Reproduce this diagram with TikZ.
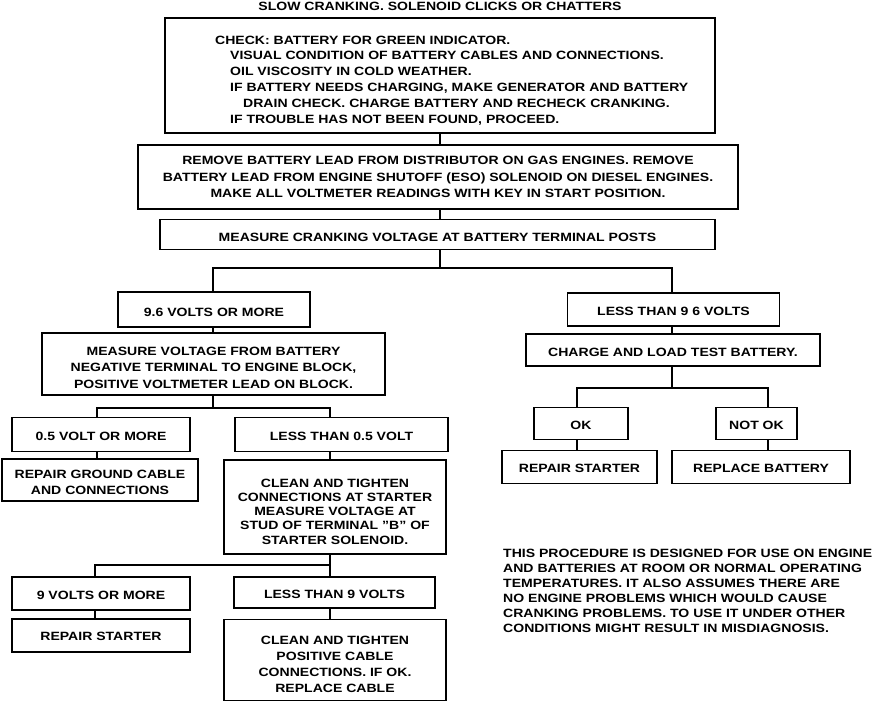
\documentclass[tikz,border=0pt]{standalone}
\usepackage{fontspec}
\setmainfont{Liberation Sans}[FakeStretch=1.17]
\begin{document}
\begin{tikzpicture}[x=1pt,y=-1pt,
  frame/.style={draw, line width=1.8pt, inner sep=0pt},
  conn/.style={line width=1.5pt},
  lbl/.style={inner sep=0pt, align=center, font=\bfseries\fontsize{12}{16}\selectfont}]
\useasboundingbox (0,0) rectangle (880,706);
\node[lbl] (title) at (440,6) {SLOW CRANKING. SOLENOID CLICKS OR CHATTERS};
% boxes
\node[frame, minimum width=550pt, minimum height=115pt] (b1) at (440,75.5) {};
\node[lbl, anchor=north west, align=left, font=\bfseries\fontsize{12}{15.8}\selectfont] (b1t) at (215,35.5)
 {CHECK: BATTERY FOR GREEN INDICATOR.\\
  \hspace*{15pt}VISUAL CONDITION OF BATTERY CABLES AND CONNECTIONS.\\
  \hspace*{15pt}OIL VISCOSITY IN COLD WEATHER.\\
  \hspace*{15pt}IF BATTERY NEEDS CHARGING, MAKE GENERATOR AND BATTERY\\
  \hspace*{28pt}DRAIN CHECK. CHARGE BATTERY AND RECHECK CRANKING.\\
  \hspace*{15pt}IF TROUBLE HAS NOT BEEN FOUND, PROCEED.};
\node[frame, minimum width=600pt, minimum height=64pt] (b2) at (438,177) {};
\node[lbl, font=\bfseries\fontsize{12}{16.5}\selectfont] (b2t) at (b2)
 {REMOVE BATTERY LEAD FROM DISTRIBUTOR ON GAS ENGINES. REMOVE\\
  BATTERY LEAD FROM ENGINE SHUTOFF (ESO) SOLENOID ON DIESEL ENGINES.\\
  MAKE ALL VOLTMETER READINGS WITH KEY IN START POSITION.};
\node[frame, minimum width=555pt, minimum height=30pt] (b3) at (437.5,234.5) {};
\node[lbl, yshift=-2.5pt] (b3t) at (b3) {MEASURE CRANKING VOLTAGE AT BATTERY TERMINAL POSTS};
\node[frame, minimum width=192pt, minimum height=35pt] (v96) at (214,309.5) {};
\node[lbl, yshift=-2.5pt] (v96t) at (v96) {9.6 VOLTS OR MORE};
\node[frame, minimum width=212pt, minimum height=33pt] (lt96) at (673.5,309.5) {};
\node[lbl, yshift=-1.5pt] (lt96t) at (lt96) {LESS THAN 9 6 VOLTS};
\node[frame, minimum width=343pt, minimum height=62pt] (meas) at (213.5,364) {};
\node[lbl, yshift=-3.5pt, font=\bfseries\fontsize{12}{16.5}\selectfont] (meast) at (meas)
 {MEASURE VOLTAGE FROM BATTERY\\ NEGATIVE TERMINAL TO ENGINE BLOCK,\\ POSITIVE VOLTMETER LEAD ON BLOCK.};
\node[frame, minimum width=294pt, minimum height=32pt] (charge) at (673,350) {};
\node[lbl, yshift=-2.5pt] (charget) at (charge) {CHARGE AND LOAD TEST BATTERY.};
\node[frame, minimum width=178pt, minimum height=34pt] (v05) at (101,434.5) {};
\node[lbl, yshift=-1.5pt] (v05t) at (v05) {0.5 VOLT OR MORE};
\node[frame, minimum width=213pt, minimum height=34pt] (lt05) at (341.5,434.5) {};
\node[lbl, yshift=-1.5pt] (lt05t) at (lt05) {LESS THAN 0.5 VOLT};
\node[frame, minimum width=94pt, minimum height=32pt] (ok) at (581,423.5) {};
\node[lbl, yshift=-2pt] (okt) at (ok) {OK};
\node[frame, minimum width=81pt, minimum height=32pt] (notok) at (756.5,423.5) {};
\node[lbl, yshift=-2pt] (notokt) at (notok) {NOT OK};
\node[frame, minimum width=155pt, minimum height=33pt] (rsR) at (579.5,467) {};
\node[lbl, yshift=-1pt] (rsRt) at (rsR) {REPAIR STARTER};
\node[frame, minimum width=178pt, minimum height=33pt] (rb) at (761,467) {};
\node[lbl, yshift=-1pt] (rbt) at (rb) {REPLACE BATTERY};
\node[frame, minimum width=196pt, minimum height=42pt] (rg) at (100,480) {};
\node[lbl, yshift=-2.5pt, font=\bfseries\fontsize{12}{16.5}\selectfont] (rgt) at (rg) {REPAIR GROUND CABLE\\ AND CONNECTIONS};
\node[frame, minimum width=222pt, minimum height=94pt] (c1) at (335,507) {};
\node[lbl, yshift=-4.5pt, font=\bfseries\fontsize{12}{14.2}\selectfont] (c1t) at (c1)
 {CLEAN AND TIGHTEN\\ CONNECTIONS AT STARTER\\ MEASURE VOLTAGE AT\\ STUD OF TERMINAL \char34 B\char34{} OF\\ STARTER SOLENOID.};
\node[frame, minimum width=178pt, minimum height=33pt] (v9m) at (101,593.5) {};
\node[lbl, yshift=-1.5pt] (v9mt) at (v9m) {9 VOLTS OR MORE};
\node[frame, minimum width=201pt, minimum height=31pt] (lt9) at (334.5,592.5) {};
\node[lbl, yshift=-1.5pt] (lt9t) at (lt9) {LESS THAN 9 VOLTS};
\node[frame, minimum width=178pt, minimum height=33pt] (rsL) at (101,635.5) {};
\node[lbl, yshift=-1pt] (rsLt) at (rsL) {REPAIR STARTER};
\node[frame, minimum width=222pt, minimum height=81pt] (c2) at (335,660) {};
\node[lbl, yshift=-4pt] (c2t) at (c2)
 {CLEAN AND TIGHTEN\\ POSITIVE CABLE\\ CONNECTIONS. IF OK.\\ REPLACE CABLE};
\node[lbl, anchor=north west, align=left, font=\bfseries\fontsize{12}{15}\selectfont] (note) at (503,548.5)
 {THIS PROCEDURE IS DESIGNED FOR USE ON ENGINE\\
  AND BATTERIES AT ROOM OR NORMAL OPERATING\\
  TEMPERATURES. IT ALSO ASSUMES THERE ARE\\
  NO ENGINE PROBLEMS WHICH WOULD CAUSE\\
  CRANKING PROBLEMS. TO USE IT UNDER OTHER\\
  CONDITIONS MIGHT RESULT IN MISDIAGNOSIS.};
% connectors
\coordinate (xa) at (440,0);
\draw[conn] (b1.south -| xa) -- (b2.north -| xa);
\draw[conn] (b2.south -| xa) -- (b3.north -| xa);
\coordinate (j1) at (440,268);
\coordinate (dL) at (213,268);
\coordinate (dR) at (672,268);
\draw[conn] (b3.south -| j1) -- (j1);
\draw[conn] (v96.north -| dL) -- (dL) -- (dR) -- (dR |- lt96.north);
\draw[conn] (v96.south -| dL) -- (meas.north -| dL);
\draw[conn] (lt96.south -| dR) -- (charge.north -| dR);
\coordinate (j2) at (213,408);
\coordinate (d05) at (97,408);
\coordinate (dl05) at (330,408);
\draw[conn] (meas.south -| j2) -- (j2);
\draw[conn] (v05.north -| d05) -- (d05) -- (dl05) -- (lt05.north -| dl05);
\draw[conn] (v05.south -| d05) -- (rg.north -| d05);
\draw[conn] (lt05.south -| dl05) -- (c1.north -| dl05);
\coordinate (j3) at (672,388);
\coordinate (dok) at (577,388);
\coordinate (dnok) at (768,388);
\draw[conn] (charge.south -| j3) -- (j3);
\draw[conn] (ok.north -| dok) -- (dok) -- (dnok) -- (notok.north -| dnok);
\draw[conn] (ok.south -| dok) -- (rsR.north -| dok);
\draw[conn] (notok.south -| dnok) -- (rb.north -| dnok);
\coordinate (j4) at (330,565);
\coordinate (d9) at (95,565);
\draw[conn] (c1.south -| j4) -- (j4);
\draw[conn] (v9m.north -| d9) -- (d9) -- (j4) -- (lt9.north -| j4);
\draw[conn] (v9m.south -| d9) -- (rsL.north -| d9);
\draw[conn] (lt9.south -| j4) -- (c2.north -| j4);
\end{tikzpicture}
\end{document}
